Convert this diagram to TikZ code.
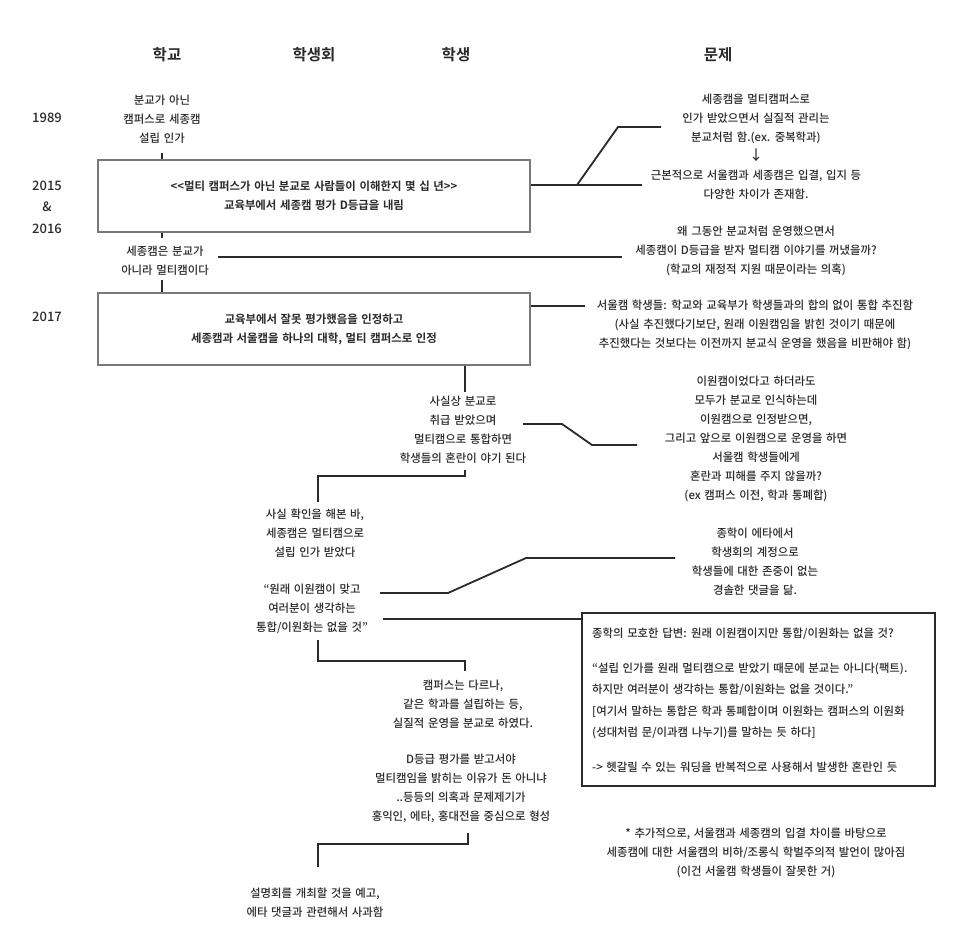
\documentclass[tikz,border=0pt]{standalone}
\usepackage{fontspec}
\newfontfamily\kr[WordSpace=1.4,UprightFont=* Medium,BoldFont=* Bold]{Noto Sans CJK KR}
\definecolor{ink}{HTML}{2A2A2A}
\definecolor{boxgray}{HTML}{7A7A7A}
\tikzset{
 txt/.style={font=\kr\fontsize{11.4}{19}\selectfont, align=center, inner sep=0pt, text=ink},
 head/.style={font=\kr\bfseries\fontsize{15.5}{18}\selectfont, inner sep=0pt, text=ink},
 yearlbl/.style={font=\kr\fontsize{13}{21.5}\selectfont, align=center, inner sep=0pt, text=ink},
 eventbox/.style={draw=boxgray, line width=1.3pt, minimum width=432pt, minimum height=72pt, inner sep=0pt, align=center, font=\kr\bfseries\fontsize{11.4}{19}\selectfont, text=ink},
 link/.style={draw=ink, line width=1.8pt},
}
\begin{document}
\begin{tikzpicture}[x=1pt,y=-1pt]
\fill[white] (0,0) rectangle (960,941);
\useasboundingbox (0,0) rectangle (960,941);

% headings
\node[head] (h1) at (167,55) {학교};
\node[head] (h2) at (314,55) {학생회};
\node[head] (h3) at (456,55) {학생};
\node[head] (h4) at (718,55) {문제};

% years
\node[yearlbl] (y1) at (47,118) {1989};
\node[yearlbl] (y2) at (47,207) {2015\\\&\\2016};
\node[yearlbl] (y3) at (47,317) {2017};

% school column
\node[txt] (s1) at (162,119) {분교가 아닌\\캠퍼스로 세종캠\\설립 인가};
\node[eventbox] (b1) at (314,196) {<<멀티 캠퍼스가 아닌 분교로 사람들이 이해한지 몇 십 년>>\\교육부에서 세종캠 평가 D등급을 내림};
\node[txt] (s2) at (165,261) {세종캠은 분교가\\아니라 멀티캠이다};
\node[eventbox] (b2) at (314,329) {교육부에서 잘못 평가했음을 인정하고\\세종캠과 서울캠을 하나의 대학, 멀티 캠퍼스로 인정};

% problem column
\node[txt] (p1) at (756,146.5) {세종캠을 멀티캠퍼스로\\인가 받았으면서 실질적 관리는\\분교처럼 함.(ex. 중복학과)\\{\fontsize{14}{19}\selectfont ↓}\\근본적으로 서울캠과 세종캠은 입결, 입지 등\\다양한 차이가 존재함.};
\node[txt] (p2) at (756,250.5) {왜 그동안 분교처럼 운영했으면서\\세종캠이 D등급을 받자 멀티캠 이야기를 꺼냈을까?\\(학교의 재정적 지원 때문이라는 의혹)};
\node[txt] (p3) at (755,325) {서울캠 학생들: 학교와 교육부가 학생들과의 합의 없이 통합 추진함\\(사실 추진했다기보단, 원래 이원캠임을 밝힌 것이기 때문에\\추진했다는 것보다는 이전까지 분교식 운영을 했음을 비판해야 함)};
\node[txt] (p4) at (756,438.5) {이원캠이었다고 하더라도\\모두가 분교로 인식하는데\\이원캠으로 인정받으면,\\그리고 앞으로 이원캠으로 운영을 하면\\서울캠 학생들에게\\혼란과 피해를 주지 않을까?\\(ex 캠퍼스 이전, 학과 통폐합)};
\node[txt] (p5) at (755,561.5) {종학이 에타에서\\학생회의 계정으로\\학생들에 대한 존중이 없는\\경솔한 댓글을 닮.};
\node[txt] (p6) at (756,853) {* 추가적으로, 서울캠과 세종캠의 입결 차이를 바탕으로\\세종캠에 대한 서울캠의 비하/조롱식 학벌주의적 발언이 많아짐\\(이건 서울캠 학생들이 잘못한 거)};

% student column
\node[txt] (t1) at (463,430) {사실상 분교로\\취급 받았으며\\멀티캠으로 통합하면\\학생들의 혼란이 야기 된다};
\node[txt] (t2) at (463,704) {캠퍼스는 다르나,\\같은 학과를 설립하는 등,\\실질적 운영을 분교로 하였다.};
\node[txt] (t3) at (461,788) {D등급 평가를 받고서야\\멀티캠임을 밝히는 이유가 돈 아니냐\\..등등의 의혹과 문제제기가\\홍익인, 에타, 홍대전을 중심으로 형성};

% student council column
\node[txt] (c1) at (315,533.5) {사실 확인을 해본 바,\\세종캠은 멀티캠으로\\설립 인가 받았다};
\node[txt] (c2) at (312,608.5) {“원래 이원캠이 맞고\\여러분이 생각하는\\통합/이원화는 없을 것”};
\node[txt] (c3) at (315,902.5) {설명회를 개최할 것을 예고,\\에타 댓글과 관련해서 사과함};

% answer box
\node[draw=ink, line width=1.8pt, minimum width=353pt, minimum height=173pt, inner sep=0pt] (b3) at (758.5,699.5) {};
\node[txt, align=left, anchor=north west, font=\kr\fontsize{11.4}{21.5}\selectfont] (b3t) at (592,628) {종학의 모호한 답변: 원래 이원캠이지만 통합/이원화는 없을 것?\\[13pt]“설립 인가를 원래 멀티캠으로 받았기 때문에 분교는 아니다(팩트).\\하지만 여러분이 생각하는 통합/이원화는 없을 것이다.”\\{}[여기서 말하는 통합은 학과 통폐합이며 이원화는 캠퍼스의 이원화\\(성대처럼 문/이과캠 나누기)를 말하는 듯 하다]\\[13pt]-> 헷갈릴 수 있는 워딩을 반복적으로 사용해서 발생한 혼란인 듯};

% connectors
\coordinate (k1) at (162,153);
\draw[link] (k1) -- (k1 |- b1.north);
\coordinate (k2) at (162,238);
\draw[link] (k2 |- b1.south) -- (k2);
\coordinate (k3) at (162,280);
\draw[link] (k3) -- (k3 |- b2.north);

\coordinate (r1) at (577,185);
\coordinate (r1a) at (642,185);
\coordinate (r1b) at (618,127);
\coordinate (r1c) at (661,127);
\draw[link] (r1 -| b1.east) -- (r1a);
\draw[link] (r1) -- (r1b) -- (r1c);

\coordinate (l2a) at (218,257);
\coordinate (l2b) at (622,257);
\draw[link] (l2a) -- (l2b);

\coordinate (l3) at (585,306);
\draw[link] (l3 -| b2.east) -- (l3);

\coordinate (k4) at (465,392);
\draw[link] (k4 |- b2.south) -- (k4);

\coordinate (l4a) at (523,424);
\coordinate (l4b) at (562,424);
\coordinate (l4c) at (592,445);
\coordinate (l4d) at (637,445);
\draw[link] (l4a) -- (l4b) -- (l4c) -- (l4d);

\coordinate (e1a) at (465,470);
\coordinate (e1b) at (465,476);
\coordinate (e1c) at (318,476);
\coordinate (e1d) at (318,502);
\draw[link] (e1a) -- (e1b) -- (e1c) -- (e1d);

\coordinate (l5a) at (380,593);
\coordinate (l5b) at (448,593);
\coordinate (l5c) at (526,558);
\coordinate (l5d) at (675,558);
\draw[link] (l5a) -- (l5b) -- (l5c) -- (l5d);

\coordinate (l6) at (383,619);
\draw[link] (l6) -- (l6 -| b3.west);

\coordinate (e2a) at (318,640);
\coordinate (e2b) at (318,661);
\coordinate (e2c) at (465,661);
\coordinate (e2d) at (465,671);
\draw[link] (e2a) -- (e2b) -- (e2c) -- (e2d);

\coordinate (e3a) at (468,833);
\coordinate (e3b) at (468,844);
\coordinate (e3c) at (318,844);
\coordinate (e3d) at (318,867);
\draw[link] (e3a) -- (e3b) -- (e3c) -- (e3d);
\end{tikzpicture}
\end{document}
